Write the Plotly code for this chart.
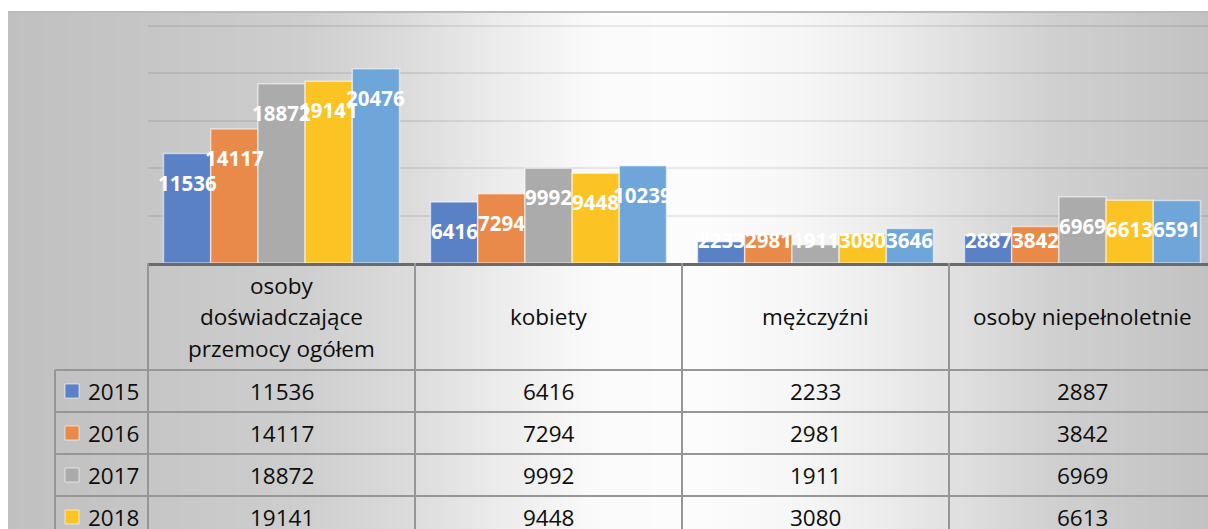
import plotly.graph_objects as go

# ---------------- data ----------------
categories = ["osoby doświadczające przemocy ogółem", "kobiety", "mężczyźni", "osoby niepełnoletnie"]
header_labels = ["osoby<br>doświadczające<br>przemocy ogółem", "kobiety", "mężczyźni", "osoby niepełnoletnie"]
years = ["2015", "2016", "2017", "2018", "2019"]
v2015 = [11536, 6416, 2233, 2887]
v2016 = [14117, 7294, 2981, 3842]
v2017 = [18872, 9992, 1911, 6969]
v2018 = [19141, 9448, 3080, 6613]
v2019 = [20476, 10239, 3646, 6591]
series = [v2015, v2016, v2017, v2018, v2019]
colors = ["#5A80C6", "#E98A4B", "#ABABAB", "#FBC424", "#6EA6D9"]

# ---------------- layout constants (pixels, page coordinates) ----------------
W, H = 1208, 529
FRAME_L, FRAME_T = 8, 12  # chart frame origin (white outside)
L, T = 148, 22            # plot area left / top
BASE = 263                # baseline pixel row
BAND = 267                # width of one category band
PX_PER_UNIT = 47.46 / 5000
HEADER_H = 107
ROW_H = 42
LEG_LEFT = 55
HEADER_LINE = 31.5
BARGAP = 0.116
LABEL_FLOOR = 5500        # labels of short bars stay at this level
LABEL_SHIFT = -29
FONT = "Open Sans"
TXT = "#0D0D0D"
YMAX = (BASE - T) / PX_PER_UNIT
X1 = -0.5 + (W - L) / BAND


def pxx(px):
    return (px - L) / (W - L)


def pxy(py):
    return (BASE - py) / (BASE - T)


fig = go.Figure()
for yr, vals, col in zip(years, series, colors):
    fig.add_trace(go.Bar(
        name=yr, x=categories, y=vals,
        marker=dict(color=col, line=dict(color="rgba(255,255,255,0.55)", width=1.5)),
        hoverinfo="x+y+name",
    ))

shapes = []
# background gradient (decorative)
grad_x = [8, 150, 300, 400, 500, 600, 700, 800, 900, 1050, 1208]
grad_b = [192, 198, 206, 218, 236, 251, 252, 246, 233, 208, 194]
step = 4
for px in range(FRAME_L, W, step):
    for k in range(len(grad_x) - 1):
        if grad_x[k] <= px <= grad_x[k + 1]:
            t = (px - grad_x[k]) / (grad_x[k + 1] - grad_x[k])
            b = round(grad_b[k] + t * (grad_b[k + 1] - grad_b[k]))
            break
    shapes.append(dict(type="rect", xref="paper", yref="paper", layer="below",
                       x0=pxx(px), x1=pxx(min(px + step + 0.5, W + 2)), y0=pxy(H + 60), y1=pxy(FRAME_T),
                       line=dict(width=0), fillcolor=f"rgb({b},{b},{b})"))
# top border of chart frame
shapes.append(dict(type="line", xref="paper", yref="paper", x0=pxx(FRAME_L), x1=pxx(W + 2),
                   y0=pxy(FRAME_T), y1=pxy(FRAME_T), line=dict(color="#BBBBBB", width=2)))

# data table grid
n_rows = len(years)
table_bottom = BASE + HEADER_H + n_rows * ROW_H
grid_col = "#969696"
for k in range(len(categories) + 1):
    xp = L + k * BAND
    shapes.append(dict(type="line", xref="paper", yref="paper", x0=pxx(xp), x1=pxx(xp),
                       y0=pxy(BASE), y1=pxy(table_bottom), line=dict(color=grid_col, width=2)))
shapes.append(dict(type="line", xref="paper", yref="paper", x0=pxx(LEG_LEFT), x1=pxx(LEG_LEFT),
                   y0=pxy(BASE + HEADER_H), y1=pxy(table_bottom), line=dict(color=grid_col, width=2)))
for r in range(n_rows + 1):
    yp = BASE + HEADER_H + r * ROW_H
    shapes.append(dict(type="line", xref="paper", yref="paper", x0=pxx(LEG_LEFT), x1=pxx(W + 10),
                       y0=pxy(yp), y1=pxy(yp), line=dict(color=grid_col, width=2)))

annotations = []
# header texts (each line placed separately for Excel-like line spacing)
for i, lab in enumerate(header_labels):
    lines = lab.split("<br>")
    for li, line in enumerate(lines):
        yc = BASE + HEADER_H / 2 + (li - (len(lines) - 1) / 2) * HEADER_LINE
        annotations.append(dict(xref="paper", yref="paper", x=pxx(L + (i + 0.5) * BAND),
                                y=pxy(yc), text=line, showarrow=False,
                                xanchor="center", yanchor="middle",
                                font=dict(family=FONT, size=22.5, color=TXT)))
# rows
for r, (yr, vals, col) in enumerate(zip(years, series, colors)):
    yc = BASE + HEADER_H + (r + 0.5) * ROW_H
    shapes.append(dict(type="rect", xref="paper", yref="paper",
                       x0=pxx(65), x1=pxx(79), y0=pxy(yc - 7), y1=pxy(yc + 7),
                       fillcolor=col, line=dict(color="rgba(255,255,255,0.6)", width=1)))
    annotations.append(dict(xref="paper", yref="paper", x=pxx(86), y=pxy(yc), text=yr,
                            showarrow=False, xanchor="left", yanchor="middle",
                            font=dict(family=FONT, size=22.5, color=TXT)))
    for i, v in enumerate(vals):
        annotations.append(dict(xref="paper", yref="paper", x=pxx(L + (i + 0.5) * BAND), y=pxy(yc),
                                text=str(v), showarrow=False, xanchor="center", yanchor="middle",
                                font=dict(family=FONT, size=22.5, color=TXT)))

# data labels on bars
bw = (1 - BARGAP) / len(years)
for j, vals in enumerate(series):
    for i, v in enumerate(vals):
        annotations.append(dict(xref="x", yref="y", x=i + (j - (len(years) - 1) / 2) * bw,
                                y=max(v, LABEL_FLOOR), yshift=LABEL_SHIFT, text=str(v),
                                showarrow=False, xanchor="center", yanchor="middle",
                                font=dict(family=FONT, size=20.5, color="white", weight="bold")))

fig.update_layout(
    width=W, height=H,
    margin=dict(l=L, r=0, t=T, b=H - BASE, pad=0),
    paper_bgcolor="white", plot_bgcolor="rgba(0,0,0,0)",
    barmode="group", bargap=BARGAP, bargroupgap=0,
    showlegend=False,
    shapes=shapes, annotations=annotations,
    font=dict(family=FONT),
    xaxis=dict(range=[-0.5, X1], showticklabels=False, ticks="", showgrid=False,
               showline=True, linecolor="#6A6A6A", linewidth=3, zeroline=False, fixedrange=True),
    yaxis=dict(range=[0, YMAX], tickvals=[5000, 10000, 15000, 20000, 25000], showticklabels=False,
               ticks="", showgrid=True, gridcolor="rgba(0,0,0,0.08)", gridwidth=2,
               zeroline=False, showline=False, fixedrange=True),
)

fig.write_html(
    "out.html",
    config={"displayModeBar": False},
    post_script=("document.body.style.margin='0';"
                 "document.documentElement.style.overflow='hidden';"
                 "document.body.style.overflow='hidden';"),
)
